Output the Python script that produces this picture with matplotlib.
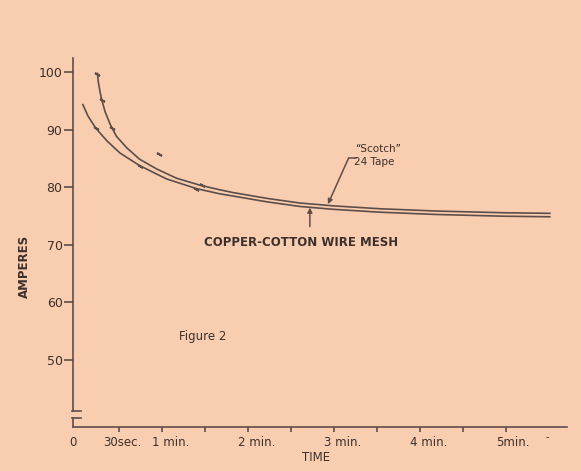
import numpy as np
import matplotlib.pyplot as plt

# curves (time in minutes, current in amperes)
scotch_t = [0.25, 0.26, 0.28, 0.30, 0.34, 0.40, 0.47, 0.59, 0.74, 0.94, 1.17, 1.44, 1.67, 1.83, 2.22, 2.60, 2.99, 3.53, 4.19, 4.97, 5.51]
scotch_a = [99.8, 98.3, 96.6, 95.2, 93.1, 90.9, 88.9, 86.9, 84.9, 83.2, 81.6, 80.4, 79.6, 79.1, 78.1, 77.3, 76.8, 76.3, 75.9, 75.6, 75.5]
copper_t = [0.08, 0.14, 0.23, 0.36, 0.51, 0.74, 1.05, 1.40, 1.67, 1.83, 2.22, 2.60, 2.99, 3.53, 4.19, 4.97, 5.51]
copper_a = [94.4, 92.4, 90.3, 88.1, 86.0, 83.8, 81.5, 79.8, 78.9, 78.5, 77.5, 76.7, 76.2, 75.7, 75.3, 75.0, 74.9]

# measured points
scotch_pt_t = [0.25, 0.30, 0.415, 0.97, 1.46]
scotch_pt_a = [99.8, 95.2, 90.3, 85.9, 80.4]
copper_pt_t = [0.23, 0.74, 1.40]
copper_pt_a = [90.3, 83.8, 79.8]

yticks = [50, 60, 70, 80, 90, 100]
xticks = [0.5, 1, 1.5, 2, 2.5, 3, 3.5, 4, 4.5, 5]
xlab_pos = [0.5, 1, 2, 3, 4, 5]
xlab_txt = ["30sec.", "1 min.", "2 min.", "3 min.", "4 min.", "5min."]

bg = "#f8cdb0"
lc = "#5e4e4a"
tc = "#3d302c"

fig = plt.figure(figsize=(5.81, 4.71), dpi=100, facecolor=bg)
ax = fig.add_axes([0.1256, 0.0934, 0.8503, 0.7834], facecolor=bg)
ax.set_xlim(-0.035, 5.71)
ax.set_ylim(38.35, 102.5)

ax.plot(scotch_t, scotch_a, c=lc, lw=1.2)
ax.plot(copper_t, copper_a, c=lc, lw=1.2)
ax.plot(scotch_pt_t, scotch_pt_a, ls="none", marker=(2, 2, 60), ms=4, mec=lc, mew=1.4)
ax.plot(copper_pt_t, copper_pt_a, ls="none", marker=(2, 2, 60), ms=4, mec=lc, mew=1.4)

for s in ["top", "right"]:
    ax.spines[s].set_visible(False)
for s in ["left", "bottom"]:
    ax.spines[s].set_color(lc)
    ax.spines[s].set_linewidth(1.2)
ax.spines["left"].set_bounds(41.1, 102.5)
# axis break
ax.plot([0, 0], [0, 0.024], transform=ax.transAxes, c=lc, lw=1.2, clip_on=False)
ax.plot([-0.002, 0.016], [0.043, 0.043], transform=ax.transAxes, c=lc, lw=1.2, clip_on=False)
ax.plot([-0.002, 0.016], [0.024, 0.024], transform=ax.transAxes, c=lc, lw=1.2, clip_on=False)

ax.set_yticks(yticks)
ax.set_yticklabels([str(v) for v in yticks], fontsize=9, color=tc)
ax.tick_params(axis="y", length=6.5, width=1.2, color=lc, pad=1)
ax.set_xticks(xticks)
ax.set_xticklabels([])
ax.tick_params(axis="x", length=3.6, width=1.2, color=lc)

ax.annotate("0", xy=(-0.035, 0), xycoords=("data", "axes fraction"), xytext=(0, -11.5),
            textcoords="offset points", ha="center", va="center", fontsize=8.5, color=tc)
for p, t in zip(xlab_pos, xlab_txt):
    off = -11.5 if p == 0.5 else -7.2
    ax.annotate(t, xy=(p, 0), xycoords=("data", "axes fraction"), xytext=(off, -11.5),
                textcoords="offset points", ha="left", va="center", fontsize=8.5, color=tc)
ax.annotate("-", xy=(5.48, 0), xycoords=("data", "axes fraction"), xytext=(0, -7),
            textcoords="offset points", ha="center", va="center", fontsize=7, color=tc)
ax.annotate("TIME", xy=(2.63, 0), xycoords=("data", "axes fraction"), xytext=(0, -21.6),
            textcoords="offset points", ha="left", va="center", fontsize=8.5, color=tc)
ax.text(-0.099, 0.434, "AMPERES", transform=ax.transAxes, rotation=90, ha="center",
        va="center", fontsize=8.5, fontweight="bold", color=tc)

ax.text(2.62, 70.5, "COPPER-COTTON WIRE MESH", ha="center", va="center",
        fontsize=8.5, fontweight="bold", color=tc)
ax.text(1.47, 54.0, "Figure 2", ha="center", va="center", fontsize=8.5, color=tc)
ax.text(3.51, 86.7, "\u201cScotch\u201d", ha="center", va="center", fontsize=7.5, color=tc)
ax.text(3.47, 84.5, "24 Tape", ha="center", va="center", fontsize=7.5, color=tc)

# leaders
ax.plot([3.26, 3.17], [85.1, 85.1], c=lc, lw=1.1)
ax.annotate("", xy=(2.93, 77.1), xytext=(3.17, 85.1),
            arrowprops=dict(arrowstyle="-|>", color=lc, lw=1.1, mutation_scale=7, shrinkA=0, shrinkB=0))
ax.annotate("", xy=(2.72, 76.5), xytext=(2.72, 73.2),
            arrowprops=dict(arrowstyle="-|>", color=lc, lw=1.1, mutation_scale=7, shrinkA=0, shrinkB=0))

fig.savefig("out.png", dpi=100, facecolor=bg)
